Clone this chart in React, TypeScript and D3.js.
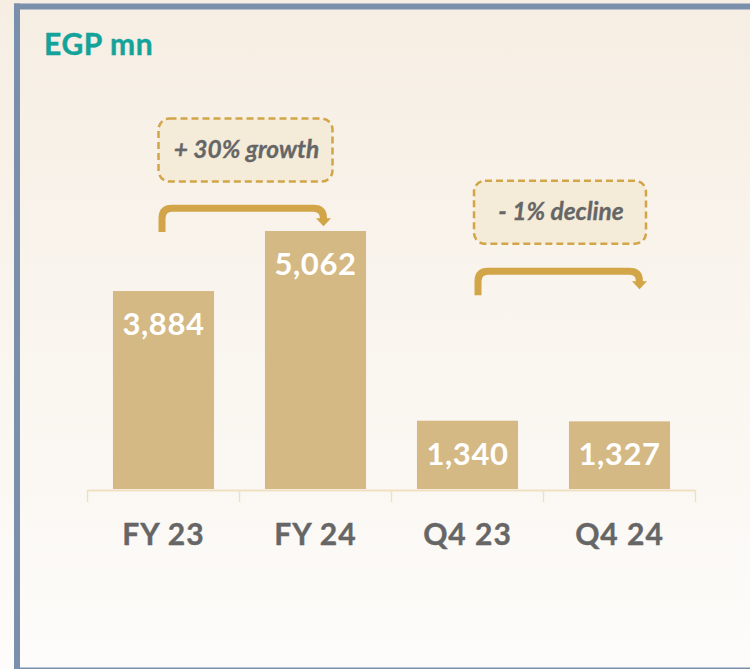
import React from "react";
import * as d3 from "d3";

const categories = ["FY 23", "FY 24", "Q4 23", "Q4 24"];
const values = [3884, 5062, 1340, 1327];
const valueLabels = ["3,884", "5,062", "1,340", "1,327"];
const annoTexts = ["+ 30% growth", "- 1% decline"];
const annoFrom = [0, 2];
const annoTo = [1, 3];
// vertical levels in data units (start of arrow, horizontal run, box centre)
const annoStart = [5040, 3800];
const annoLevel = [5510, 4270];
const annoBox = [6650, 5430];
const titleText = "EGP mn";

const W = 750;
const H = 669;

export default function App() {
  const x = d3.scaleBand<string>().domain(categories).range([87.5, 695.5]).paddingInner(0.335).paddingOuter(0.1675);
  const y = d3.scaleLinear().domain([0, 5062]).range([489, 231]);
  const bw = x.bandwidth();
  const step = x.step();
  const tickXs = d3.range(categories.length + 1).map((i) => 87.5 + i * step);
  const gold = "#d1a548";
  const cx = (i: number) => (x(categories[i]) as number) + bw / 2;

  return (
    <svg width={W} height={H} style={{ position: "absolute", left: 0, top: 0 }} fontFamily="Lato, 'Open Sans', sans-serif">
      <defs>
        <linearGradient id="bg" x1="0" y1="0" x2="0" y2="1">
          <stop offset="0" stopColor="#f6eee3" />
          <stop offset="1" stopColor="#fdfcfa" />
        </linearGradient>
      </defs>
      <rect x={0} y={0} width={W} height={H} fill="url(#bg)" />
      <rect x={14} y={3.5} width={W - 14} height={6} fill="#7a8fab" />
      <rect x={14} y={3.5} width={6} height={H - 3.5} fill="#7a8fab" />
      <rect x={14} y={667.5} width={W - 14} height={1.5} fill="#7a8fab" />

      <text x={44} y={55} fontSize={30} fontWeight={700} letterSpacing={0.6} fill="#14a39a" stroke="#14a39a" strokeWidth={0.4}>{titleText}</text>

      <line x1={tickXs[0]} x2={tickXs[tickXs.length - 1]} y1={490.5} y2={490.5} stroke="#efe0c2" strokeWidth={2} />
      {tickXs.map((tx, i) => (
        <line key={"t" + i} x1={tx} x2={tx} y1={490} y2={502} stroke="#efe0c2" strokeWidth={1.5} />
      ))}

      {categories.map((c, i) => (
        <g key={c}>
          <rect x={x(c)} y={y(values[i])} width={bw} height={y(0) - y(values[i])} fill="#d5b985" />
          <text x={cx(i)} y={y(values[i]) + 44} textAnchor="middle" fontSize={31} fontWeight={700} letterSpacing={0.6} fill="#ffffff">
            {valueLabels[i]}
          </text>
          <text x={cx(i)} y={545} textAnchor="middle" fontSize={30} fontWeight={700} letterSpacing={1} fill="#666666" stroke="#666666" strokeWidth={0.4}>
            {c}
          </text>
        </g>
      ))}

      {annoTexts.map((t, i) => {
        const sx = cx(annoFrom[i]) + (i === 0 ? -1.5 : 10.5);
        const ex = cx(annoTo[i]) + (i === 0 ? 8 : 20);
        const sy = y(annoStart[i]);
        const ly = y(annoLevel[i]);
        const r = 10;
        const p = d3.path();
        p.moveTo(sx, sy);
        p.lineTo(sx, ly + r);
        p.quadraticCurveTo(sx, ly, sx + r, ly);
        p.lineTo(ex - r, ly);
        p.quadraticCurveTo(ex, ly, ex, ly + r);
        p.lineTo(ex, ly + 11);
        const h = d3.path();
        h.moveTo(ex - 7.5, ly + 10);
        h.lineTo(ex + 7.5, ly + 10);
        h.lineTo(ex, ly + 18);
        h.closePath();
        const boxX = i === 0 ? cx(annoFrom[i]) - 5 : cx(annoFrom[i]) + 6.5;
        const boxW = i === 0 ? 174 : 172;
        const bcy = y(annoBox[i]);
        const boxH = 63;
        return (
          <g key={"a" + i}>
            <path d={p.toString()} fill="none" stroke={gold} strokeWidth={7} />
            <path d={h.toString()} fill={gold} stroke="none" />
            <rect x={boxX} y={bcy - boxH / 2} width={boxW} height={boxH} rx={11} fill="#f5ebd9" stroke={gold} strokeWidth={2.5} strokeDasharray="7 4" />
            <text x={boxX + boxW / 2 + 1} y={bcy + 8} textAnchor="middle" fontSize={24.5} fontWeight={700} fontStyle="italic" fill="#666666" stroke="#666666" strokeWidth={0.3}>
              {t}
            </text>
          </g>
        );
      })}
    </svg>
  );
}
